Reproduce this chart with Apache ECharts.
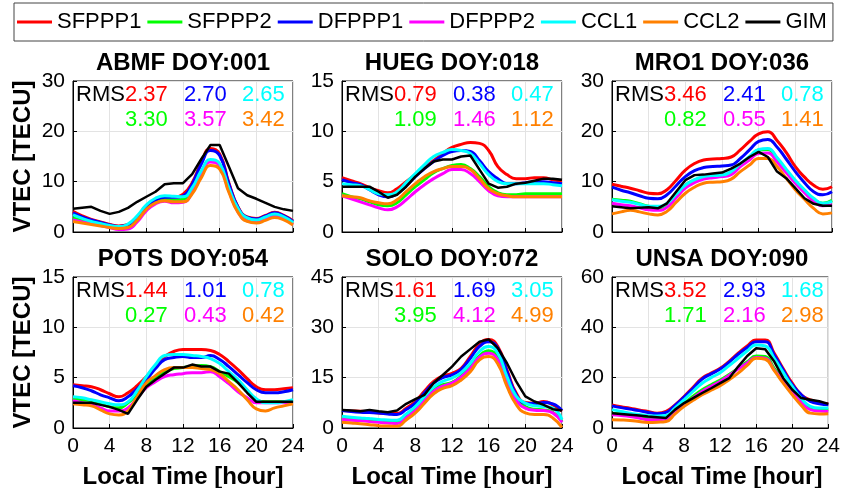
<!DOCTYPE html>
<html>
<head>
<meta charset="utf-8">
<script src="https://cdn.jsdelivr.net/npm/echarts@6/dist/echarts.min.js"></script>
<style>
  html, body { margin: 0; padding: 0; background: #fff; }
  #chart { width: 843px; height: 488px; }
</style>
</head>
<body>
<div id="chart"></div>
<script>
// Local time axis (hours)
const HOURS = [0,1,2,3,4,5,6,7,8,9,10,11,12,13,14,15,16,17,18,19,20,21,22,23,24];
const X_TICKS = [0,4,8,12,16,20,24];

const SERIES_NAMES = ['SFPPP1','SFPPP2','DFPPP1','DFPPP2','CCL1','CCL2','GIM'];
const SERIES_COLORS = ['#FF0000','#00FF00','#0000FF','#FF00FF','#00FFFF','#FF8000','#000000'];

const STATIONS = ['ABMF DOY:001','HUEG DOY:018','MRO1 DOY:036','POTS DOY:054','SOLO DOY:072','UNSA DOY:090'];
const Y_MAX = [30, 15, 30, 15, 45, 60];
const Y_STEP = [10, 5, 10, 5, 15, 20];

// RMS per station: [SFPPP1, DFPPP1, CCL1] on first row, [SFPPP2, DFPPP2, CCL2] on second
const RMS_ROW1 = [['2.37','2.70','2.65'],['0.79','0.38','0.47'],['3.46','2.41','0.78'],['1.44','1.01','0.78'],['1.61','1.69','3.05'],['3.52','2.93','1.68']];
const RMS_ROW2 = [['3.30','3.57','3.42'],['1.09','1.46','1.12'],['0.82','0.55','1.41'],['0.27','0.43','0.42'],['3.95','4.12','4.99'],['1.71','2.16','2.98']];

// VTEC [TECU], hourly, per station
const ABMF_SFPPP1 = [4.1,3.2,2.5,2.0,1.5,1.2,1.5,3.0,5.2,6.4,7.0,7.0,7.5,9.8,13.8,16.6,15.5,9.8,5.0,3.0,2.7,3.3,3.9,3.3,2.2];
const ABMF_SFPPP2 = [2.8,2.3,1.9,1.5,1.1,0.8,1.0,2.5,4.6,6.0,6.5,6.3,6.5,8.3,11.8,14.2,13.4,8.5,4.3,2.5,2.2,2.7,3.3,2.8,1.8];
const ABMF_DFPPP1 = [3.8,3.0,2.4,1.9,1.4,1.1,1.4,2.9,5.0,6.3,6.9,6.9,7.2,9.5,13.5,16.2,15.2,9.6,4.9,2.9,2.6,3.2,3.8,3.2,2.1];
const ABMF_DFPPP2 = [2.4,2.0,1.7,1.3,0.9,0.5,0.6,2.0,4.2,5.6,6.1,5.8,5.9,7.8,11.5,13.9,13.1,8.2,4.0,2.2,1.9,2.5,3.1,2.6,1.5];
const ABMF_CCL1   = [3.4,2.7,2.1,1.7,1.3,1.1,1.6,3.2,5.4,6.7,7.2,7.1,7.0,8.8,12.2,14.4,13.6,8.8,4.7,2.8,2.4,3.0,3.6,3.0,1.9];
const ABMF_CCL2   = [2.1,1.8,1.5,1.2,0.9,0.7,0.9,2.3,4.5,5.8,6.2,6.0,6.0,7.6,10.8,13.2,12.5,7.9,3.9,2.1,1.8,2.3,2.9,2.4,1.4];
const ABMF_GIM    = [4.6,4.8,5.0,4.2,3.6,4.0,4.8,6.0,7.0,8.0,9.5,9.7,9.7,11.5,14.5,17.3,17.3,13.0,8.7,7.3,6.6,5.8,5.0,4.5,4.2];

const HUEG_SFPPP1 = [5.4,5.1,4.8,4.4,4.1,3.9,4.3,5.0,5.7,6.4,7.1,7.8,8.4,8.7,8.9,8.8,8.1,6.5,5.7,5.3,5.3,5.4,5.4,5.2,5.1];
const HUEG_SFPPP2 = [3.8,3.5,3.3,3.0,2.7,2.6,2.9,3.7,4.5,5.2,5.9,6.3,6.6,6.7,6.3,5.5,4.5,3.9,3.7,3.7,3.8,3.8,3.8,3.8,3.8];
const HUEG_DFPPP1 = [5.2,4.9,4.7,4.2,3.7,3.5,3.8,4.6,5.5,6.3,7.0,7.6,8.0,8.1,8.0,7.1,6.0,5.3,4.8,4.8,4.9,5.0,5.0,4.9,4.8];
const HUEG_DFPPP2 = [3.6,3.3,3.0,2.7,2.4,2.2,2.5,3.2,4.0,4.7,5.3,5.8,6.2,6.2,5.8,5.0,4.1,3.6,3.5,3.5,3.5,3.5,3.5,3.5,3.5];
const HUEG_CCL1   = [4.8,4.7,4.6,4.2,3.8,3.7,4.0,4.9,5.8,6.7,7.5,7.9,8.2,8.1,7.8,6.8,5.7,5.0,4.8,4.8,4.8,4.8,4.8,4.7,4.6];
const HUEG_CCL2   = [3.6,3.5,3.4,3.1,2.9,2.8,3.2,4.0,4.8,5.5,6.0,6.3,6.5,6.5,6.2,5.3,4.3,3.8,3.6,3.5,3.5,3.5,3.5,3.5,3.5];
const HUEG_GIM    = [4.5,4.5,4.5,4.5,4.0,3.4,3.7,4.5,5.5,6.3,7.0,7.2,7.2,7.5,7.6,6.2,4.8,4.4,4.5,4.8,4.9,5.1,5.3,5.3,5.2];

const MRO1_SFPPP1 = [9.5,9.1,8.7,8.2,7.7,7.6,8.4,10.3,12.3,13.6,14.3,14.5,14.6,14.9,16.3,18.0,19.5,19.9,18.2,15.8,13.0,10.9,9.3,8.5,9.0];
const MRO1_SFPPP2 = [6.5,6.3,6.1,5.6,5.1,4.7,5.6,7.5,9.3,10.3,10.9,11.1,11.3,11.6,13.3,14.8,16.3,16.4,14.6,12.3,10.0,8.2,6.5,5.7,6.3];
const MRO1_DFPPP1 = [8.9,8.3,7.8,7.2,6.7,6.6,7.4,9.2,11.0,12.2,12.8,13.0,13.1,13.3,14.6,16.3,18.0,18.4,16.9,14.5,12.0,9.8,8.0,7.4,8.0];
const MRO1_DFPPP2 = [5.7,5.4,5.2,4.8,4.4,4.3,4.9,6.8,8.7,9.8,10.5,10.8,11.0,11.4,13.0,14.3,15.6,15.7,13.9,11.8,9.7,7.8,6.1,5.2,5.4];
const MRO1_CCL1   = [6.4,6.1,5.9,5.5,5.1,5.1,5.7,7.5,9.3,10.4,11.0,11.2,11.3,12.0,13.6,15.0,16.4,16.6,14.8,12.5,10.3,8.4,6.7,5.7,6.1];
const MRO1_CCL2   = [3.6,4.0,4.3,4.0,3.6,3.4,4.1,5.9,7.7,8.9,9.7,9.9,10.0,10.5,12.0,13.3,14.6,14.6,13.0,10.7,8.4,6.5,4.7,3.6,3.8];
const MRO1_GIM    = [5.1,4.9,4.7,4.8,4.9,4.7,5.7,8.0,10.3,11.3,11.4,11.6,11.8,12.6,13.6,14.9,15.9,14.9,12.0,10.7,8.7,6.7,5.6,5.2,5.2];

const POTS_SFPPP1 = [4.3,4.2,4.1,3.8,3.4,3.1,3.5,4.2,5.1,6.2,7.1,7.6,7.8,7.8,7.8,7.7,7.3,6.6,5.8,4.9,4.1,3.8,3.8,3.9,4.0];
const POTS_SFPPP2 = [2.9,2.8,2.7,2.4,2.1,2.0,2.5,3.4,4.3,5.0,5.6,5.9,6.0,6.1,6.2,6.1,5.6,5.1,4.5,3.6,2.8,2.6,2.6,2.6,2.7];
const POTS_DFPPP1 = [4.2,4.0,3.7,3.3,3.0,2.7,3.1,3.9,4.8,5.9,6.8,7.0,7.1,7.0,7.0,7.2,6.8,6.1,5.3,4.5,3.8,3.5,3.5,3.6,3.8];
const POTS_DFPPP2 = [2.7,2.5,2.3,2.0,1.7,1.7,2.0,3.0,4.0,4.6,5.1,5.3,5.4,5.5,5.5,5.6,5.1,4.4,3.6,3.0,2.5,2.5,2.5,2.5,2.6];
const POTS_CCL1   = [3.1,3.0,2.8,2.6,2.4,2.3,2.6,3.7,5.1,6.3,7.2,7.3,7.3,7.2,7.1,6.9,6.4,5.6,4.8,3.8,2.9,2.5,2.5,2.6,2.8];
const POTS_CCL2   = [2.4,2.3,2.2,1.8,1.4,1.3,1.7,3.1,4.5,5.2,5.8,6.0,6.0,6.0,5.9,5.8,5.4,4.6,3.8,2.8,1.9,1.7,2.0,2.2,2.4];
const POTS_GIM    = [2.5,2.5,2.5,2.3,2.1,1.8,1.4,2.8,4.1,4.8,5.4,6.0,6.0,6.3,6.1,6.1,5.6,5.4,4.5,3.5,2.6,2.6,2.6,2.6,2.6];

const SOLO_SFPPP1 = [5.2,5.1,5.0,4.8,4.5,4.3,4.3,5.9,7.9,11.0,13.9,15.5,16.3,17.8,21.3,25.0,26.4,24.3,17.3,10.4,7.6,7.4,7.9,6.9,5.0];
const SOLO_SFPPP2 = [3.0,2.7,2.5,2.2,2.0,1.8,1.7,3.5,5.6,8.6,11.6,12.9,13.6,15.5,18.3,21.5,23.0,21.0,14.2,8.8,6.4,5.6,5.4,4.7,2.0];
const SOLO_DFPPP1 = [5.2,4.9,4.7,4.6,4.5,4.2,4.0,5.5,7.4,10.5,13.4,15.0,15.8,17.5,20.8,24.3,25.7,23.8,16.8,10.0,7.4,7.3,7.6,7.2,5.2];
const SOLO_DFPPP2 = [2.5,2.3,2.2,1.9,1.7,1.5,1.3,3.1,5.2,8.1,10.9,12.5,13.4,15.2,17.8,21.1,22.3,20.3,13.6,8.3,5.9,5.3,5.2,4.5,1.7];
const SOLO_CCL1   = [3.5,3.2,3.0,2.8,2.5,2.4,2.3,4.2,6.4,9.4,12.2,13.9,14.9,16.5,19.3,22.8,24.3,22.3,15.3,9.5,7.4,6.6,6.4,5.9,2.5];
const SOLO_CCL2   = [1.7,1.5,1.3,1.0,0.7,0.6,0.5,2.4,4.5,7.4,10.2,11.8,12.6,14.3,16.8,20.3,21.3,19.1,12.4,7.0,4.5,4.0,4.0,3.0,0.2];
const SOLO_GIM    = [5.4,5.2,5.0,5.4,5.0,4.7,5.2,7.2,8.6,9.9,13.4,15.8,18.3,21.3,23.5,25.7,26.4,23.8,19.3,13.9,9.4,7.9,6.9,5.6,5.2];

const UNSA_SFPPP1 = [9.2,8.5,7.9,7.2,6.6,5.9,6.6,9.2,12.5,16.2,19.8,21.8,23.7,26.5,29.7,32.6,35.0,35.0,29.7,23.5,17.8,13.2,11.2,10.0,9.6];
const UNSA_SFPPP2 = [5.9,5.6,5.3,4.7,4.0,3.9,4.0,7.0,9.9,12.6,15.2,17.2,19.1,21.3,23.7,26.3,28.6,28.4,23.7,19.2,15.2,10.8,7.9,7.4,7.3];
const UNSA_DFPPP1 = [8.8,8.1,7.5,6.9,6.2,5.7,6.2,9.0,12.3,15.8,19.4,21.5,23.4,26.2,29.3,32.0,34.3,34.3,29.0,23.0,17.2,13.2,10.6,9.6,9.2];
const UNSA_DFPPP2 = [5.3,5.0,4.6,4.0,3.3,3.3,3.6,6.4,9.2,11.9,14.5,16.6,18.5,20.9,23.4,25.8,28.0,27.7,23.1,18.8,14.5,10.2,7.3,6.8,6.6];
const UNSA_CCL1   = [7.3,6.6,5.9,5.4,4.9,4.8,5.0,8.0,11.2,14.6,17.8,20.0,22.0,24.8,27.7,30.6,33.0,32.6,27.7,22.0,16.5,11.8,8.6,7.9,7.9];
const UNSA_CCL2   = [3.3,3.2,3.0,2.6,2.2,2.3,2.6,5.6,8.6,11.0,13.2,15.0,16.8,19.2,21.8,24.9,27.7,27.3,22.8,17.8,13.2,9.0,5.9,5.6,5.7];
const UNSA_GIM    = [5.9,5.6,5.3,5.0,4.6,4.3,4.0,7.3,9.9,11.9,13.9,15.8,17.8,19.8,24.4,28.6,31.7,31.3,26.4,19.8,15.2,11.9,11.2,10.6,9.6];

// Panel data in legend order: SFPPP1, SFPPP2, DFPPP1, DFPPP2, CCL1, CCL2, GIM
const PANELS = [
  [ABMF_SFPPP1, ABMF_SFPPP2, ABMF_DFPPP1, ABMF_DFPPP2, ABMF_CCL1, ABMF_CCL2, ABMF_GIM],
  [HUEG_SFPPP1, HUEG_SFPPP2, HUEG_DFPPP1, HUEG_DFPPP2, HUEG_CCL1, HUEG_CCL2, HUEG_GIM],
  [MRO1_SFPPP1, MRO1_SFPPP2, MRO1_DFPPP1, MRO1_DFPPP2, MRO1_CCL1, MRO1_CCL2, MRO1_GIM],
  [POTS_SFPPP1, POTS_SFPPP2, POTS_DFPPP1, POTS_DFPPP2, POTS_CCL1, POTS_CCL2, POTS_GIM],
  [SOLO_SFPPP1, SOLO_SFPPP2, SOLO_DFPPP1, SOLO_DFPPP2, SOLO_CCL1, SOLO_CCL2, SOLO_GIM],
  [UNSA_SFPPP1, UNSA_SFPPP2, UNSA_DFPPP1, UNSA_DFPPP2, UNSA_CCL1, UNSA_CCL2, UNSA_GIM]
];

// ---- layout ----
const FONT = "'Liberation Sans', Arial, Helvetica, sans-serif";
const COL_LEFT = [73, 342, 612];
const ROW_TOP = [81, 277];
const PW = 220, PH = 151;

const chart = echarts.init(document.getElementById('chart'), null, { renderer: 'canvas' });

const grids = [], xAxes = [], yAxes = [], series = [], graphics = [];
const rowColors1 = [SERIES_COLORS[0], SERIES_COLORS[2], SERIES_COLORS[4]];
const rowColors2 = [SERIES_COLORS[1], SERIES_COLORS[3], SERIES_COLORS[5]];
const numOffsets = [52, 111, 169];

for (let p = 0; p < 6; p++) {
  const row = Math.floor(p / 3), col = p % 3;
  const left = COL_LEFT[col], top = ROW_TOP[row];
  grids.push({ left: left, top: top, width: PW, height: PH, show: true,
               borderColor: '#000', borderWidth: 1, backgroundColor: '#fff' });
  xAxes.push({
    gridIndex: p, type: 'value', min: 0, max: 24, interval: 4,
    axisLine: { lineStyle: { color: '#000', width: 1 } },
    axisTick: { inside: true, length: 4, lineStyle: { color: '#000' } },
    axisLabel: { show: row === 1, color: '#000', fontSize: 21, fontFamily: FONT, margin: 8 },
    splitLine: { show: true, lineStyle: { color: '#e3e3e3', width: 1 } }
  });
  yAxes.push({
    gridIndex: p, type: 'value', min: 0, max: Y_MAX[p], interval: Y_STEP[p],
    axisLine: { show: true, lineStyle: { color: '#000', width: 1 } },
    axisTick: { show: true, inside: true, length: 4, lineStyle: { color: '#000' } },
    axisLabel: { color: '#000', fontSize: 21, fontFamily: FONT, margin: 8 },
    splitLine: { show: true, lineStyle: { color: '#e3e3e3', width: 1 } }
  });
  PANELS[p].forEach((vals, s) => {
    const isGim = s === 6;
    series.push({
      name: SERIES_NAMES[s], type: 'line', xAxisIndex: p, yAxisIndex: p,
      data: HOURS.map((h, k) => [h, vals[k]]),
      showSymbol: false, smooth: isGim ? false : 0.5, clip: true,
      lineStyle: { color: SERIES_COLORS[s], width: isGim ? 2.5 : 3 },
      itemStyle: { color: SERIES_COLORS[s] },
      z: 2 + s, silent: true, animation: false
    });
  });
  // panel title
  graphics.push({ type: 'text', x: left + PW / 2, y: top - 18,
    style: { text: STATIONS[p], fill: '#000', font: 'bold 24px ' + FONT,
             textAlign: 'center', textVerticalAlign: 'middle' } });
  // RMS block
  graphics.push({ type: 'text', x: left + 3, y: top + 14, z: 20,
    style: { text: 'RMS', fill: '#000', font: '22px ' + FONT, textAlign: 'left', textVerticalAlign: 'middle' } });
  for (let c = 0; c < 3; c++) {
    graphics.push({ type: 'text', x: left + numOffsets[c], y: top + 14, z: 20,
      style: { text: RMS_ROW1[p][c], fill: rowColors1[c], font: '22px ' + FONT, textAlign: 'left', textVerticalAlign: 'middle' } });
    graphics.push({ type: 'text', x: left + numOffsets[c], y: top + 39, z: 20,
      style: { text: RMS_ROW2[p][c], fill: rowColors2[c], font: '22px ' + FONT, textAlign: 'left', textVerticalAlign: 'middle' } });
  }
  if (row === 1) {
    graphics.push({ type: 'text', x: left + PW / 2, y: 477,
      style: { text: 'Local Time [hour]', fill: '#000', font: 'bold 24px ' + FONT,
               textAlign: 'center', textVerticalAlign: 'middle' } });
  }
  if (col === 0) {
    graphics.push({ type: 'text', x: 23, y: top + PH / 2, rotation: Math.PI / 2,
      style: { text: 'VTEC [TECU]', fill: '#000', font: 'bold 24px ' + FONT,
               textAlign: 'center', textVerticalAlign: 'middle' } });
  }
}

chart.setOption({
  animation: false,
  backgroundColor: '#fff',
  legend: {
    data: SERIES_NAMES,
    left: 14, top: 3,
    width: 823,
    icon: 'rect', itemWidth: 35, itemHeight: 3, itemGap: 6,
    padding: [8, 6, 8, 3],
    borderColor: '#444', borderWidth: 1, backgroundColor: '#fff',
    textStyle: { color: '#000', fontSize: 22, fontFamily: FONT },
    selectedMode: false
  },
  grid: grids, xAxis: xAxes, yAxis: yAxes, series: series,
  graphic: graphics
});
</script>
</body>
</html>
